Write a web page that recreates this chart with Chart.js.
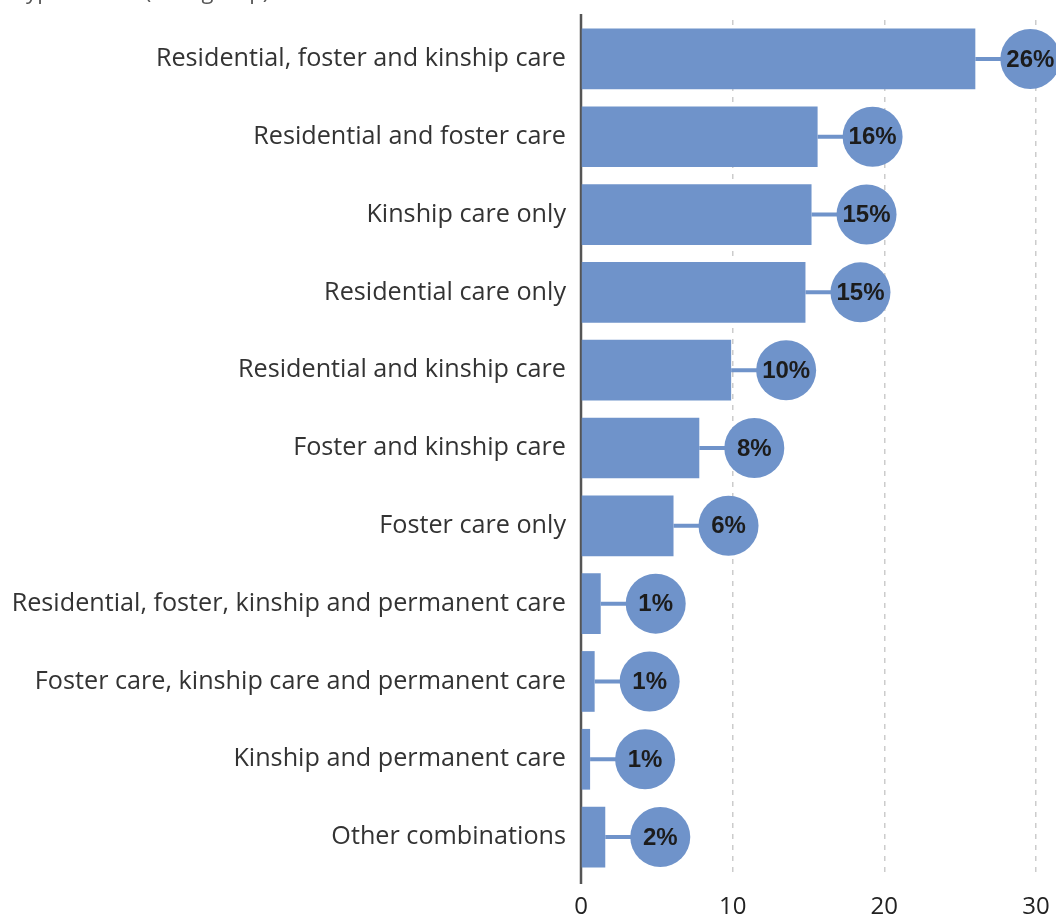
<!DOCTYPE html>
<html>
<head>
<meta charset="utf-8">
<script src="https://cdn.jsdelivr.net/npm/chart.js@4/dist/chart.umd.min.js"></script>
<style>
  html, body { margin: 0; padding: 0; background: #fff; overflow: hidden; }
  #wrap { position: relative; width: 1056px; height: 915px; }
</style>
</head>
<body>
<div id="wrap"><canvas id="care-chart" width="1056" height="915"></canvas></div>
<script>
const categories = [
  "Residential, foster and kinship care",
  "Residential and foster care",
  "Kinship care only",
  "Residential care only",
  "Residential and kinship care",
  "Foster and kinship care",
  "Foster care only",
  "Residential, foster, kinship and permanent care",
  "Foster care, kinship care and permanent care",
  "Kinship and permanent care",
  "Other combinations"
];
const shares = [26.0, 15.6, 15.2, 14.8, 9.9, 7.8, 6.1, 1.3, 0.9, 0.6, 1.6];
const xTicks = [0, 10, 20, 30];
const chartTitle = "Type of care (% of group)";

const BLUE = "rgb(111,147,202)";
const FONT = "'Open Sans', 'Liberation Sans', sans-serif";
const BOLD_FONT = "'Liberation Sans', Arial, sans-serif";

// bubble with the rounded share, hooked to the end of each bar
const bubbleLabels = {
  id: "bubbleLabels",
  afterDatasetsDraw(chart) {
    const ctx = chart.ctx;
    const xs = chart.scales.x;
    const meta = chart.getDatasetMeta(0);
    ctx.save();
    meta.data.forEach((bar, i) => {
      const end = xs.getPixelForValue(shares[i]);
      const cx = end + 55;
      const cy = bar.y;
      ctx.strokeStyle = BLUE;
      ctx.lineWidth = 4;
      ctx.beginPath();
      ctx.moveTo(end, cy);
      ctx.lineTo(cx, cy);
      ctx.stroke();
      ctx.fillStyle = BLUE;
      ctx.beginPath();
      ctx.arc(cx, cy, 30, 0, Math.PI * 2);
      ctx.fill();
      ctx.fillStyle = "#1c1c1c";
      ctx.font = "bold 24px " + BOLD_FONT;
      ctx.textAlign = "center";
      ctx.textBaseline = "middle";
      ctx.fillText(Math.round(shares[i]) + "%", cx, cy + 1);
    });
    ctx.restore();
  },
  beforeDatasetsDraw(chart) {
    // zero line, a little taller than the plot area
    const ctx = chart.ctx;
    const x0 = chart.scales.x.getPixelForValue(0);
    const area = chart.chartArea;
    ctx.save();
    ctx.strokeStyle = "#555";
    ctx.lineWidth = 2.5;
    ctx.beginPath();
    ctx.moveTo(x0, area.top - 6);
    ctx.lineTo(x0, area.bottom + 8);
    ctx.stroke();
    ctx.restore();
  },
  afterDraw(chart) {
    // heading sits mostly above the canvas edge
    const ctx = chart.ctx;
    ctx.save();
    ctx.fillStyle = "#555";
    ctx.font = "22px " + FONT;
    ctx.textAlign = "left";
    ctx.textBaseline = "alphabetic";
    ctx.fillText(chartTitle, 14, -1);
    ctx.restore();
  }
};

new Chart(document.getElementById("care-chart"), {
  type: "bar",
  data: {
    labels: categories,
    datasets: [{
      data: shares,
      backgroundColor: BLUE,
      borderWidth: 0,
      barPercentage: 0.78,
      categoryPercentage: 1
    }]
  },
  options: {
    indexAxis: "y",
    responsive: false,
    animation: false,
    layout: { padding: { top: 20, right: 20, left: 0, bottom: 0 } },
    plugins: {
      legend: { display: false },
      tooltip: { enabled: false }
    },
    scales: {
      x: {
        min: 0,
        max: 30,
        afterBuildTicks: (scale) => { scale.ticks = xTicks.map((v) => ({ value: v })); },
        afterFit: (scale) => {
          scale.height = 39;
          scale.paddingLeft = 0;
          scale.paddingRight = 0;
        },
        ticks: {
          color: "#222",
          font: { family: FONT, size: 24 },
          padding: 17,
          maxRotation: 0
        },
        grid: {
          drawTicks: false,
          color: (c) => (c.tick && c.tick.value === 0 ? "rgba(0,0,0,0)" : "#cccccc"),
          lineWidth: 1.5
        },
        border: { display: false, dash: [5, 6] }
      },
      y: {
        afterFit: (scale) => {
          scale.width = 581;
          scale.paddingTop = 0;
          scale.paddingBottom = 0;
        },
        ticks: {
          color: "#333",
          font: { family: FONT, size: 25.2 },
          padding: 15
        },
        grid: { display: false, drawTicks: false },
        border: { display: false }
      }
    }
  },
  plugins: [bubbleLabels]
});
</script>
</body>
</html>
